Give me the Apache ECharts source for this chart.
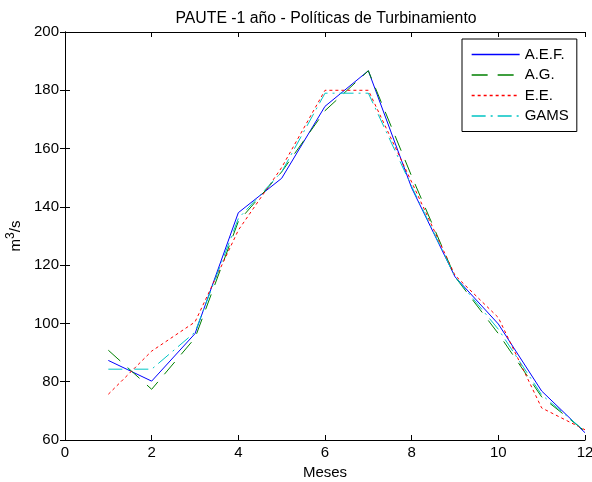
<!DOCTYPE html>
<html>
<head>
<meta charset="utf-8">
<script src="https://cdn.jsdelivr.net/npm/echarts@6/dist/echarts.min.js"></script>
<style>
html,body{margin:0;padding:0;background:#fff;}
#chart{width:592px;height:482px;}
</style>
</head>
<body>
<div id="chart"></div>
<script>
var months = [1, 2, 3, 4, 5, 6, 7, 8, 9, 10, 11, 12];
var seriesNames = ['A.E.F.', 'A.G.', 'E.E.', 'GAMS'];
var aef  = [87.3, 80.2, 96.5, 138, 149.8, 174.5, 186.7, 146.5, 116, 99.8, 76.8, 62.5];
var ag   = [90.8, 77.4, 95, 135, 152, 173, 186.7, 150.5, 116, 96.5, 74.8, 63];
var ee   = [75.7, 90.5, 100.5, 132, 153.5, 180, 180, 148.5, 116.5, 102, 71, 63.5];
var gams = [84.3, 84.3, 97, 136, 152, 179, 179, 147, 116, 98, 75.5, 63];
var xTicks = [0, 2, 4, 6, 8, 10, 12];
var yTicks = [60, 80, 100, 120, 140, 160, 180, 200];

var FONT = 'Liberation Sans';
function pairs(vals) { return months.map(function (m, i) { return [m, vals[i]]; }); }
var styles = [
  { color: '#0000ff', type: 'solid' },
  { color: '#008000', type: [16, 10] },
  { color: '#ff0000', type: [3, 3] },
  { color: '#00c4c4', type: [14, 5, 2, 5] }
];
var values = [aef, ag, ee, gams];
var series = values.map(function (v, i) {
  return {
    name: seriesNames[i], type: 'line', data: pairs(v), symbol: 'none', showSymbol: false,
    xAxisIndex: 0, yAxisIndex: 0, animation: false,
    lineStyle: { color: styles[i].color, width: 1, type: styles[i].type },
    itemStyle: { color: styles[i].color }
  };
});

var baseX = { type: 'value', min: xTicks[0], max: xTicks[xTicks.length - 1], interval: 2,
  axisLine: { lineStyle: { color: '#000', width: 1 } },
  axisTick: { inside: true, length: 5, lineStyle: { color: '#000' } },
  splitLine: { show: false } };
var baseY = { type: 'value', min: yTicks[0], max: yTicks[yTicks.length - 1], interval: 20,
  axisLine: { lineStyle: { color: '#000', width: 1 } },
  axisTick: { inside: true, length: 5, lineStyle: { color: '#000' } },
  splitLine: { show: false } };

var chart = echarts.init(document.getElementById('chart'), null, { renderer: 'canvas' });
chart.setOption({
  backgroundColor: '#fff',
  animation: false,
  title: { text: 'PAUTE -1 año - Políticas de Turbinamiento', left: 321, textAlign: 'center', top: 6,
    textStyle: { fontFamily: FONT, fontSize: 15.8, fontWeight: 'normal', color: '#000' } },
  grid: { left: 65, right: 7, top: 32, bottom: 42, containLabel: false, outerBoundsMode: 'none' },
  legend: {
    show: true,
    orient: 'vertical', left: 462, top: 39, itemWidth: 48, itemHeight: 14, itemGap: 5.5,
    padding: [8, 8, 8, 9], borderColor: '#000', borderWidth: 1, backgroundColor: '#fff',
    textStyle: { fontFamily: FONT, fontSize: 15, color: '#000' },
    itemStyle: { opacity: 0 },
    data: seriesNames.map(function (n, i) {
      return { name: n, lineStyle: { color: styles[i].color, width: 1.3, type: styles[i].type } };
    })
  },
  xAxis: [
    Object.assign({}, baseX, { position: 'bottom', name: 'Meses', nameLocation: 'middle', nameGap: 22,
      nameTextStyle: { fontFamily: FONT, fontSize: 15, color: '#000' },
      axisLabel: { fontFamily: FONT, fontSize: 15, color: '#000', margin: 5 } }),
    Object.assign({}, baseX, { position: 'top', axisLabel: { show: false } })
  ],
  yAxis: [
    Object.assign({}, baseY, { position: 'left', name: 'm{sup|3}/s', nameLocation: 'middle', nameGap: 30,
      nameTextStyle: { fontFamily: FONT, fontSize: 15, color: '#000',
        rich: { sup: { fontFamily: FONT, fontSize: 12, color: '#000', verticalAlign: 'top', lineHeight: 22 } } },
      axisLabel: { fontFamily: FONT, fontSize: 15, color: '#000', margin: 6 } }),
    Object.assign({}, baseY, { position: 'right', axisLabel: { show: false } })
  ],
  series: series
});
</script>
</body>
</html>
